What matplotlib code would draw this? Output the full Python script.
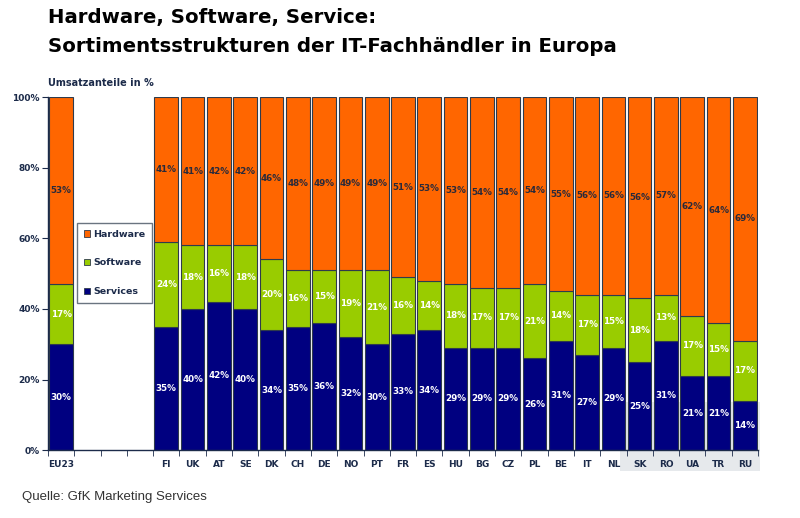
import numpy as np
import matplotlib
matplotlib.use("Agg")
from matplotlib import pyplot as plt
from matplotlib.patches import Rectangle

# data (Umsatzanteile in %)
laender = ['EU23', 'FI', 'UK', 'AT', 'SE', 'DK', 'CH', 'DE', 'NO', 'PT', 'FR', 'ES',
           'HU', 'BG', 'CZ', 'PL', 'BE', 'IT', 'NL', 'SK', 'RO', 'UA', 'TR', 'RU']
services = [30, 35, 40, 42, 40, 34, 35, 36, 32, 30, 33, 34,
            29, 29, 29, 26, 31, 27, 29, 25, 31, 21, 21, 14]
software = [17, 24, 18, 16, 18, 20, 16, 15, 19, 21, 16, 14,
            18, 17, 17, 21, 14, 17, 15, 18, 13, 17, 15, 17]
hardware = [53, 41, 41, 42, 42, 46, 48, 49, 49, 49, 51, 53,
            53, 54, 54, 54, 55, 56, 56, 56, 57, 62, 64, 69]

c_hw = '#FF6600'
c_sw = '#99CC00'
c_sv = '#000080'
c_txt = '#1C2B4A'

# EU23 in first slot, then three empty slots, then the countries
pos = np.array([0] + [4 + i for i in range(len(laender) - 1)])

fig = plt.figure(figsize=(8, 5.18), dpi=100)
ax = fig.add_axes([0.06, 0.131, 0.8875, 0.6817])
ax.patch.set_alpha(0)
ax.set_zorder(2)

# light grey box behind SK..RU labels
fig.patches.append(Rectangle((620 / 800, 1 - 471 / 518), 140 / 800, 69 / 518,
                             transform=fig.transFigure, facecolor='#E6E9EC',
                             edgecolor='none', zorder=-1))

sv = np.array(services, dtype=float)
sw = np.array(software, dtype=float)
hw = 100 - sv - sw  # top segment fills the bar to 100%

w = 0.9
ec = '#2F3B4C'
ax.bar(pos, sv, w, color=c_sv, edgecolor=ec, linewidth=0.8, label='Services', zorder=2)
ax.bar(pos, sw, w, bottom=sv, color=c_sw, edgecolor=ec, linewidth=0.8, label='Software', zorder=2)
ax.bar(pos, hw, w, bottom=sv + sw, color=c_hw, edgecolor=ec, linewidth=0.8, label='Hardware', zorder=2)

fs = 6.3
for i, p in enumerate(pos):
    ax.text(p, sv[i] / 2, f'{services[i]}%', ha='center', va='center', color='white',
            fontsize=fs, fontweight='bold', zorder=3)
    ax.text(p, sv[i] + sw[i] / 2, f'{software[i]}%', ha='center', va='center', color='white',
            fontsize=fs, fontweight='bold', zorder=3)
    ax.text(p, sv[i] + sw[i] + hw[i] / 2, f'{hardware[i]}%', ha='center', va='center',
            color='#2A2A3A', fontsize=fs, fontweight='bold', zorder=3)

ax.set_xlim(-0.5, 26.5)
ax.set_ylim(0, 100)
ax.set_yticks([0, 20, 40, 60, 80, 100])
ax.set_yticklabels(['0%', '20%', '40%', '60%', '80%', '100%'])
ax.set_xticks(pos)
ax.set_xticklabels(laender)
ax.set_xticks(np.arange(-0.5, 27, 1), minor=True)
ax.tick_params(axis='x', which='major', length=0, pad=7, labelsize=6.5, labelcolor=c_txt)
ax.tick_params(axis='x', which='minor', length=4, color=c_txt, direction='out')
ax.tick_params(axis='y', length=4, color=c_txt, labelsize=6.5, labelcolor=c_txt, pad=2)
for lab in ax.get_xticklabels() + ax.get_yticklabels():
    lab.set_fontweight('bold')

for s in ['top', 'right']:
    ax.spines[s].set_visible(False)
for s in ['left', 'bottom']:
    ax.spines[s].set_color(c_txt)
    ax.spines[s].set_linewidth(1.0)

h, l = ax.get_legend_handles_labels()
leg = ax.legend(h[::-1], l[::-1], loc='upper left',
                bbox_to_anchor=(77 / 800, 1 - 223 / 518), bbox_transform=fig.transFigure,
                prop={'weight': 'bold', 'size': 6.8}, handlelength=0.7, handleheight=0.7,
                handletextpad=0.3, labelspacing=2.1, borderpad=0.7, borderaxespad=0,
                fancybox=False, framealpha=1, edgecolor='#6A7480')
leg.get_frame().set_linewidth(1.0)
for t in leg.get_texts():
    t.set_color(c_txt)
for p in leg.get_patches():
    p.set_linewidth(0.6)

fig.text(48 / 800, 1 - 18 / 518, 'Hardware, Software, Service:', fontsize=14.2,
         fontweight='bold', va='center', ha='left', color='black')
fig.text(48 / 800, 1 - 47 / 518, 'Sortimentsstrukturen der IT-Fachhändler in Europa',
         fontsize=14.2, fontweight='bold', va='center', ha='left', color='black')
fig.text(48 / 800, 1 - 83 / 518, 'Umsatzanteile in %', fontsize=7, fontweight='bold',
         va='center', ha='left', color=c_txt)
fig.text(22 / 800, 1 - 497 / 518, 'Quelle: GfK Marketing Services', fontsize=9.5,
         family='Liberation Sans', va='center', ha='left', color='#333333')

plt.savefig('out.png', dpi=100)
plt.close()
